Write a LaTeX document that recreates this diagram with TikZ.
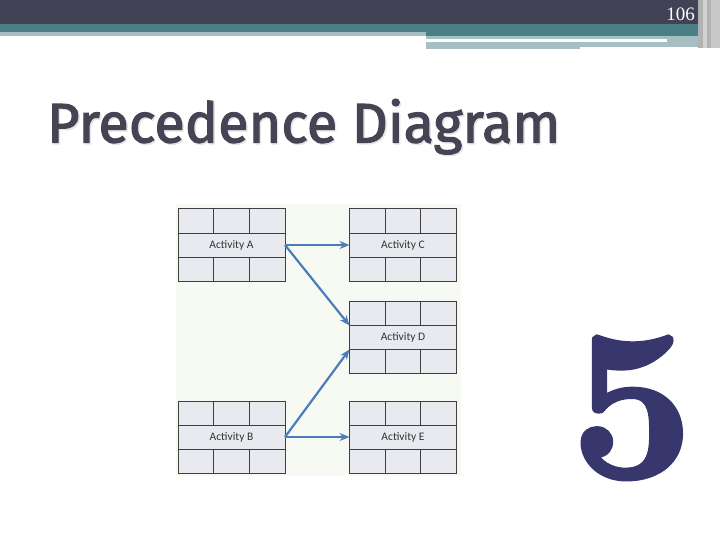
\documentclass[tikz,border=0pt]{standalone}
\usepackage{fontspec}
\newfontfamily\carlito{Carlito}
\newfontfamily\titlefont{Fira Sans}[FakeBold=2]
\newfontfamily\pagefont{Liberation Serif}
\newfontfamily\numfont{Latin Modern Roman}[FakeBold=2.5]
\usetikzlibrary{arrows.meta,positioning,calc}

\definecolor{barDark}{HTML}{424257}
\definecolor{barTeal}{HTML}{4A8085}
\definecolor{barLight}{HTML}{A6BFC2}
\definecolor{boxFill}{HTML}{E8EAEF}
\definecolor{boxLine}{HTML}{3F3F3F}
\definecolor{arrBlue}{HTML}{4A7DBA}
\definecolor{titleGray}{HTML}{444454}
\definecolor{numNavy}{HTML}{37376D}
\definecolor{panel}{HTML}{F7F9F3}

\tikzset{
  act/.style={draw=boxLine,fill=boxFill,line width=1pt,minimum width=107pt,
    minimum height=24pt,inner sep=0pt,outer sep=0pt,text=black!80,
    font=\carlito\fontsize{11.5}{13}\selectfont},
  cellrow/.style={draw=boxLine,fill=boxFill,line width=1pt},
  link/.style={-{Stealth[length=10pt,width=8pt]},draw=arrBlue,line width=2.2pt}
}

% top and bottom rows of cells round an activity node
\newcommand{\actrows}[1]{%
  \draw[cellrow] (#1.north west) rectangle ($(#1.north east)+(0,-24)$);
  \draw[cellrow] (#1.south west) rectangle ($(#1.south east)+(0,24)$);
  \foreach \f in {1/3,2/3} {
    \draw[boxLine,line width=1pt] ($(#1.north west)!\f!(#1.north east)$) -- +(0,-24);
    \draw[boxLine,line width=1pt] ($(#1.south west)!\f!(#1.south east)$) -- +(0,24);
  }%
}

\begin{document}
\begin{tikzpicture}[x=1pt,y=-1pt]
  \useasboundingbox (0,0) rectangle (720,540);
  % header bars
  \fill[barDark] (0,0) rectangle (720,24);
  \fill[barTeal] (0,24) rectangle (700,32);
  \fill[barLight] (0,32) rectangle (426,36);
  \fill[barTeal] (426,32) rectangle (700,36);
  \fill[barLight] (426,36) rectangle (700,39);
  \fill[barLight] (667,39) rectangle (700,42);
  \fill[barLight] (426,42) rectangle (700,47);
  \fill[barLight] (426,47) rectangle (580,49);
  \fill[black!30] (698,0) rectangle (720,48);
  \fill[black!18] (703,0) rectangle (707,48);
  \fill[black!22] (711,0) rectangle (720,48);
  \node[anchor=base east,text=white,inner sep=0pt,
    font=\pagefont\fontsize{19}{19}\selectfont] (page) at (695,21) {106};

  % title
  \node[anchor=base west,inner sep=0pt,text=black!10,
    font=\titlefont\fontsize{55.8}{60}\selectfont] (shadow) at (48.5,144) {Precedence Diagram};
  \node[anchor=base west,inner sep=0pt,text=titleGray,
    font=\titlefont\fontsize{55.8}{60}\selectfont] (title) at (47,142.5) {Precedence Diagram};

  % diagram
  \fill[panel] (176,204) rectangle (461,476);
  \node[act] (A) at (231.5,245) {Activity A};
  \node[act] (C) at (403,245) {Activity C};
  \node[act] (D) at (403,337.5) {Activity D};
  \node[act] (B) at (231.5,437) {Activity B};
  \node[act] (E) at (403,437) {Activity E};
  \actrows{A}
  \actrows{C}
  \actrows{D}
  \actrows{B}
  \actrows{E}
  \draw[link] (A.east) -- (C.west);
  \draw[link] (A.east) -- (D.north west);
  \draw[link] (B.east) -- (D.south west);
  \draw[link] (B.east) -- (E.west);

  % chapter number
  \node[anchor=south,inner sep=0pt,text=numNavy,
    font=\numfont\bfseries\fontsize{212}{212}\selectfont] (num) at (632,479) {\scalebox{1.02}[1]{5}};
\end{tikzpicture}
\end{document}
